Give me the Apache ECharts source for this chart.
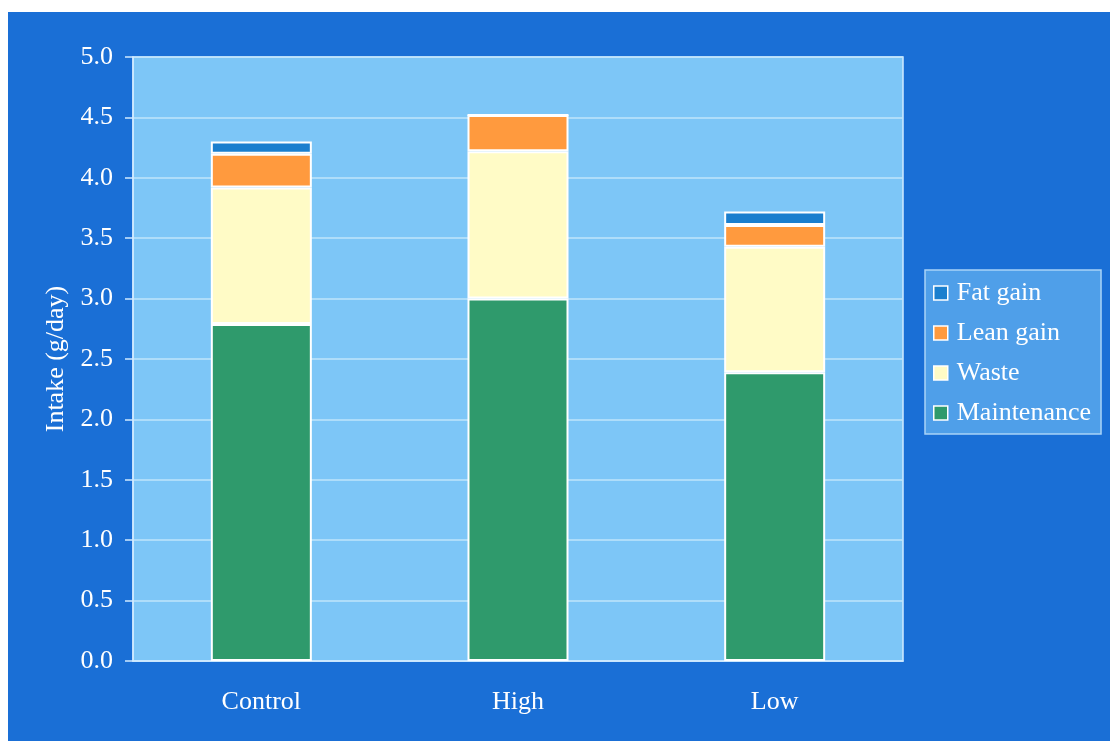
<!DOCTYPE html>
<html>
<head>
<meta charset="utf-8">
<script src="https://cdn.jsdelivr.net/npm/echarts@6/dist/echarts.min.js"></script>
<style>
  html, body { margin: 0; padding: 0; background: #ffffff; }
  #chart { position: absolute; left: 8px; top: 12px; width: 1102px; height: 729px; }
</style>
</head>
<body>
<div id="chart"></div>
<script>
// Daily intake breakdown per diet group (g/day)
const categories = ['Control', 'High', 'Low'];
const maintenance = [2.79, 3.00, 2.39];
const waste = [1.13, 1.22, 1.04];
const leanGain = [0.28, 0.30, 0.18];
const fatGain = [0.10, 0.00, 0.11];
const yTicks = { min: 0, max: 5, interval: 0.5 };

const serif = '"Liberation Serif", "DejaVu Serif", serif';
const chart = echarts.init(document.getElementById('chart'));

function seg(name, data, color) {
  return {
    name: name,
    type: 'bar',
    stack: 'intake',
    barWidth: 101,
    data: data,
    itemStyle: { color: color, borderColor: '#ffffff', borderWidth: 2 }
  };
}

chart.setOption({
  backgroundColor: '#1a6fd6',
  animation: false,
  grid: {
    left: 125, right: 207, top: 45, bottom: 80,
    show: true,
    backgroundColor: '#7dc6f7',
    borderColor: '#cfeaff',
    borderWidth: 1.5
  },
  legend: {
    orient: 'vertical',
    left: 917, top: 258,
    padding: [10, 10, 8, 8],
    itemGap: 14,
    itemWidth: 14, itemHeight: 14,
    icon: 'rect',
    backgroundColor: '#4f9fe9',
    borderColor: '#a9d3f7',
    borderWidth: 1.5,
    data: ['Fat gain', 'Lean gain', 'Waste', 'Maintenance'],
    itemStyle: { borderColor: '#ffffff', borderWidth: 1.5 },
    textStyle: { color: '#ffffff', fontFamily: serif, fontSize: 26, lineHeight: 26, padding: [0, 0, 0, 4] }
  },
  xAxis: {
    type: 'category',
    data: categories,
    axisLine: { show: true, lineStyle: { color: '#cfeaff', width: 1.5 } },
    axisTick: { show: false },
    axisLabel: { color: '#ffffff', fontFamily: serif, fontSize: 26, margin: 28 }
  },
  yAxis: {
    type: 'value',
    min: yTicks.min, max: yTicks.max, interval: yTicks.interval,
    name: 'Intake (g/day)',
    nameLocation: 'middle',
    nameGap: 64,
    nameTextStyle: { color: '#ffffff', fontFamily: serif, fontSize: 26 },
    axisLine: { show: true, lineStyle: { color: '#cfeaff', width: 1.5 } },
    axisTick: { show: true, length: 8, lineStyle: { color: '#cfeaff', width: 1.5 } },
    axisLabel: {
      color: '#ffffff', fontFamily: serif, fontSize: 26, margin: 20,
      formatter: v => v.toFixed(1)
    },
    splitLine: { show: true, lineStyle: { color: '#bfe4fb', width: 1.5 } }
  },
  series: [
    seg('Maintenance', maintenance, '#2f9a6c'),
    seg('Waste', waste, '#fffbc6'),
    seg('Lean gain', leanGain, '#ff9a3e'),
    seg('Fat gain', fatGain, '#1b7fce')
  ]
});
</script>
</body>
</html>
